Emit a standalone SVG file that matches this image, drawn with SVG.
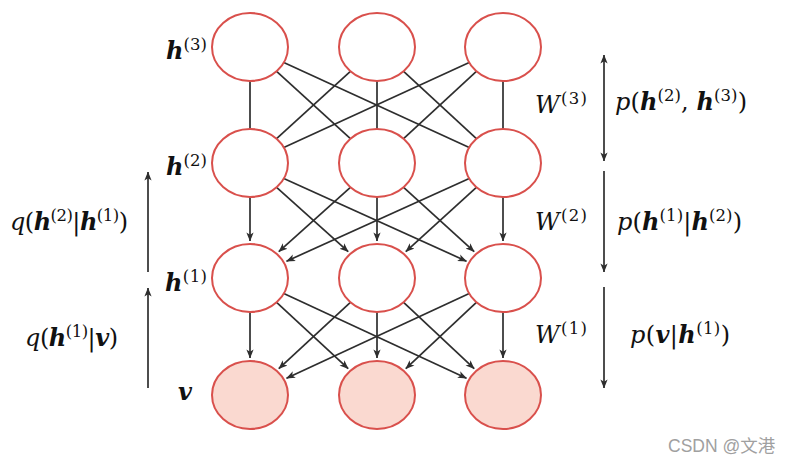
<svg xmlns="http://www.w3.org/2000/svg" width="794" height="466" viewBox="0 0 794 466">
<style>
.node{fill:#ffffff;stroke:#d9504c;stroke-width:2}
.vis{fill:#fad9d0}
.edge{fill:none;stroke:#2e2e2e;stroke-width:1.7}
.arr{marker-end:url(#ah)}
.lbl{font-family:"DejaVu Serif",serif;font-size:24px;fill:#111111}
.it{font-style:italic}
.bi{font-style:italic;font-weight:bold}
.sup{font-size:16.5px}
.wm{font-family:"Liberation Sans","Noto Sans CJK SC",sans-serif;font-size:17.5px;fill:#a0a0a0}
</style>
<defs>
<marker id="ah" viewBox="0 0 10 10" refX="9.5" refY="5" markerWidth="9" markerHeight="9" markerUnits="userSpaceOnUse" orient="auto-start-reverse">
<path d="M0,1 L10,5 L0,9 L2.5,5 z" fill="#2e2e2e"/>
</marker>
</defs>
<rect width="794" height="466" fill="#ffffff"/>

<g id="connectors">
<!-- h3 - h2 undirected -->
<path class="edge" d="M250,81 L250,129"/>
<path class="edge" d="M276.6,71.3 L350.4,138.7"/>
<path class="edge" d="M283.8,62.5 L469.2,147.5"/>
<path class="edge" d="M350.4,71.3 L276.6,138.7"/>
<path class="edge" d="M377,81 L377,129"/>
<path class="edge" d="M403.6,71.3 L476.4,138.7"/>
<path class="edge" d="M469.2,62.5 L283.8,147.5"/>
<path class="edge" d="M476.4,71.3 L403.6,138.7"/>
<path class="edge" d="M503,81 L503,129"/>
<!-- h2 -> h1 -->
<path class="edge arr" d="M250,197 L250,241"/>
<path class="edge arr" d="M276.6,187.3 L348.2,251.7"/>
<path class="edge arr" d="M283.8,178.5 L466.5,261.2"/>
<path class="edge arr" d="M350.4,187.3 L278.8,251.7"/>
<path class="edge arr" d="M377,197 L377,241"/>
<path class="edge arr" d="M403.6,187.3 L474.2,251.7"/>
<path class="edge arr" d="M469.2,178.5 L286.5,261.2"/>
<path class="edge arr" d="M476.4,187.3 L405.8,251.7"/>
<path class="edge arr" d="M503,197 L503,241"/>
<!-- h1 -> v -->
<path class="edge arr" d="M250,312 L250,358"/>
<path class="edge arr" d="M276.6,302.3 L348.2,368.7"/>
<path class="edge arr" d="M283.8,293.5 L466.5,378.2"/>
<path class="edge arr" d="M350.4,302.3 L278.8,368.7"/>
<path class="edge arr" d="M377,312 L377,358"/>
<path class="edge arr" d="M403.6,302.3 L474.2,368.7"/>
<path class="edge arr" d="M469.2,293.5 L286.5,378.2"/>
<path class="edge arr" d="M476.4,302.3 L405.8,368.7"/>
<path class="edge arr" d="M503,312 L503,358"/>
<!-- side arrows -->
<path class="edge arr" d="M148,272 L148,172"/>
<path class="edge arr" d="M148,388 L148,288"/>
<path class="edge arr" d="M604,55 L604,161" marker-start="url(#ah)"/>
<path class="edge arr" d="M604,171 L604,272"/>
<path class="edge arr" d="M604,287 L604,388"/>
</g>

<g id="h3_1"><ellipse class="node" cx="250" cy="47" rx="38" ry="34"/></g>
<g id="h3_2"><ellipse class="node" cx="377" cy="47" rx="38" ry="34"/></g>
<g id="h3_3"><ellipse class="node" cx="503" cy="47" rx="38" ry="34"/></g>
<g id="h2_1"><ellipse class="node" cx="250" cy="163" rx="38" ry="34"/></g>
<g id="h2_2"><ellipse class="node" cx="377" cy="163" rx="38" ry="34"/></g>
<g id="h2_3"><ellipse class="node" cx="503" cy="163" rx="38" ry="34"/></g>
<g id="h1_1"><ellipse class="node" cx="250" cy="278" rx="38" ry="34"/></g>
<g id="h1_2"><ellipse class="node" cx="377" cy="278" rx="38" ry="34"/></g>
<g id="h1_3"><ellipse class="node" cx="503" cy="278" rx="38" ry="34"/></g>
<g id="v_1"><ellipse class="node vis" cx="250" cy="395" rx="38" ry="34"/></g>
<g id="v_2"><ellipse class="node vis" cx="377" cy="395" rx="38" ry="34"/></g>
<g id="v_3"><ellipse class="node vis" cx="503" cy="395" rx="38" ry="34"/></g>

<g id="layer-labels">
<text class="lbl" x="166" y="59" textLength="41" lengthAdjust="spacing"><tspan class="bi">h</tspan><tspan class="sup" dy="-9">(3)</tspan></text>
<text class="lbl" x="166" y="175" textLength="41" lengthAdjust="spacing"><tspan class="bi">h</tspan><tspan class="sup" dy="-9">(2)</tspan></text>
<text class="lbl" x="165" y="291" textLength="42" lengthAdjust="spacing"><tspan class="bi">h</tspan><tspan class="sup" dy="-9">(1)</tspan></text>
<text class="lbl bi" x="178" y="400">v</text>
</g>

<g id="left-labels">
<text class="lbl" x="10" y="230" textLength="118" lengthAdjust="spacing"><tspan class="it">q</tspan>(<tspan class="bi">h</tspan><tspan class="sup" dy="-9">(2)</tspan><tspan dy="9">|</tspan><tspan class="bi">h</tspan><tspan class="sup" dy="-9">(1)</tspan><tspan dy="9">)</tspan></text>
<text class="lbl" x="25" y="346" textLength="93" lengthAdjust="spacing"><tspan class="it">q</tspan>(<tspan class="bi">h</tspan><tspan class="sup" dy="-9">(1)</tspan><tspan dy="9">|</tspan><tspan class="bi">v</tspan>)</text>
</g>

<g id="right-labels">
<text class="lbl" x="535" y="113" textLength="52" lengthAdjust="spacing"><tspan class="it">W</tspan><tspan class="sup" dy="-9">(3)</tspan></text>
<text class="lbl" x="615" y="110" textLength="132" lengthAdjust="spacing"><tspan class="it">p</tspan>(<tspan class="bi">h</tspan><tspan class="sup" dy="-9">(2)</tspan><tspan dy="9">, </tspan><tspan class="bi">h</tspan><tspan class="sup" dy="-9">(3)</tspan><tspan dy="9">)</tspan></text>
<text class="lbl" x="535" y="230" textLength="52" lengthAdjust="spacing"><tspan class="it">W</tspan><tspan class="sup" dy="-9">(2)</tspan></text>
<text class="lbl" x="617" y="230" textLength="125" lengthAdjust="spacing"><tspan class="it">p</tspan>(<tspan class="bi">h</tspan><tspan class="sup" dy="-9">(1)</tspan><tspan dy="9">|</tspan><tspan class="bi">h</tspan><tspan class="sup" dy="-9">(2)</tspan><tspan dy="9">)</tspan></text>
<text class="lbl" x="535" y="343" textLength="52" lengthAdjust="spacing"><tspan class="it">W</tspan><tspan class="sup" dy="-9">(1)</tspan></text>
<text class="lbl" x="630" y="343" textLength="100" lengthAdjust="spacing"><tspan class="it">p</tspan>(<tspan class="bi">v</tspan>|<tspan class="bi">h</tspan><tspan class="sup" dy="-9">(1)</tspan><tspan dy="9">)</tspan></text>
</g>

<text class="wm" x="668" y="452">CSDN @文港</text>
</svg>
